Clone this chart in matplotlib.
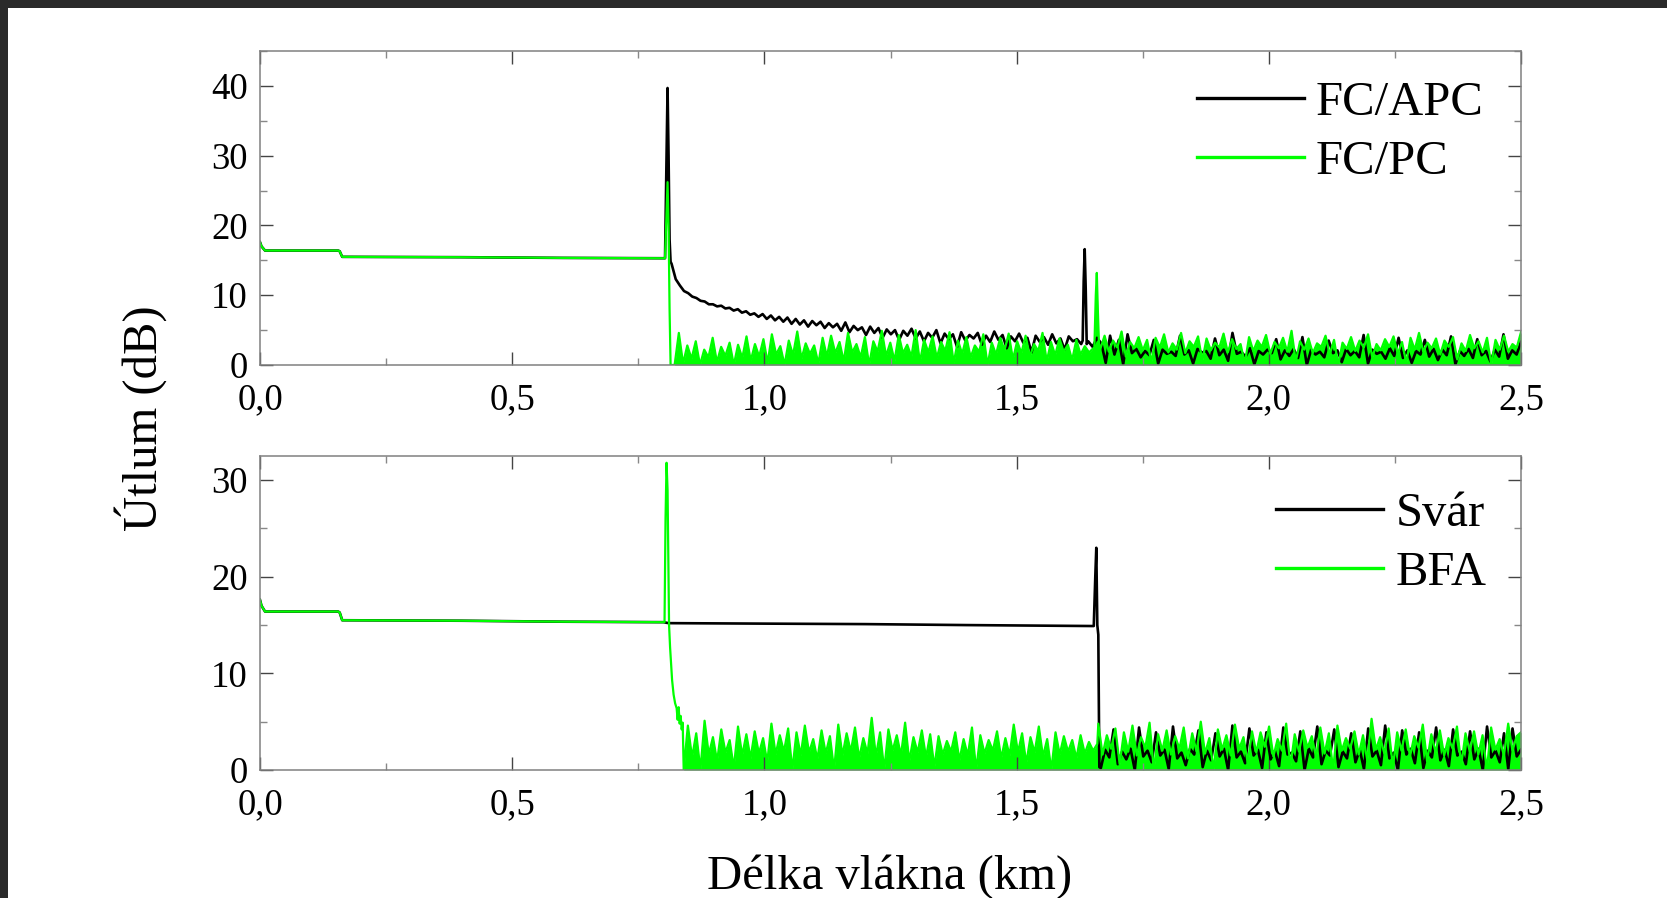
import numpy as np
import matplotlib
matplotlib.use("Agg")
import matplotlib.pyplot as plt
from matplotlib.ticker import MultipleLocator
from matplotlib.patches import Rectangle

plt.rcParams['font.family'] = 'serif'
plt.rcParams['font.serif'] = ['Liberation Serif', 'DejaVu Serif']

# společný začátek všech stop (km, dB)
prefix_km = [0.0, 0.003, 0.010, 0.155, 0.158, 0.163, 0.40, 0.60, 0.800]
prefix_db = [17.6, 17.0, 16.4, 16.4, 16.3, 15.5, 15.45, 15.35, 15.3]

# ---- horní graf: FC/APC (černá) ----
apc_peak_km = [0.803, 0.806, 0.808, 0.810, 0.812, 0.814]
apc_peak_db = [15.3, 30.0, 39.7, 30.0, 18.0, 14.8]
apc_noise_a_range = (0.816, 1.628)
apc_noise_a = [
    14.5, 12.3, 11.4, 10.6, 10.3, 9.8, 9.6, 9.2, 9.1, 8.7, 8.7, 8.4, 8.5, 8.1, 8.2, 7.8, 8.0, 7.5, 7.7, 7.2,
    7.4, 6.9, 7.3, 6.6, 7.1, 6.4, 6.9, 6.2, 6.8, 5.9, 6.6, 5.8, 6.4, 5.5, 6.3, 5.7, 6.2, 5.3, 6.0, 5.4,
    5.9, 4.9, 6.1, 4.7, 5.6, 5.0, 5.4, 4.3, 5.5, 4.6, 5.3, 3.9, 5.1, 4.4, 5.0, 3.6, 4.9, 4.2, 5.2, 3.8,
    4.8, 3.4, 4.6, 3.9, 5.0, 3.1, 4.5, 3.7, 4.4, 2.6, 4.7, 3.5, 4.3, 3.8, 4.6, 2.9, 4.2, 3.3, 4.8, 3.6,
    4.3, 2.4, 4.1, 3.4, 4.5, 3.2, 3.9, 1.8, 4.2, 3.3, 4.0, 2.9, 4.4, 3.1, 3.8, 2.2, 4.1, 3.4, 3.7, 3.0,
]
apc_spike_km = [1.631, 1.633, 1.635, 1.637, 1.639]
apc_spike_db = [3.5, 12.0, 16.6, 11.0, 3.0]
apc_noise_b_range = (1.642, 2.5)
apc_noise_b = [
    3.4, 2.6, 3.9, 3.1, 0.3, 4.2, 1.5, 3.6, 0.1, 4.4, 1.7, 2.3, 1.1, 2.0, 1.4, 3.6, 0.2, 2.2, 1.6, 1.9,
    1.3, 4.2, 1.5, 2.1, 0.2, 2.3, 1.8, 2.0, 0.9, 3.8, 1.4, 2.2, 0.6, 4.6, 1.6, 1.9, 1.2, 2.4, 0.1, 2.0,
    1.5, 2.2, 1.7, 3.7, 0.8, 2.1, 1.3, 2.3, 1.0, 4.0, 0.0, 2.2, 1.5, 1.9, 1.1, 3.5, 1.7, 2.1, 0.4, 2.3,
    1.4, 2.0, 1.1, 4.3, 0.2, 2.2, 1.6, 1.9, 0.9, 2.4, 1.3, 3.9, 1.0, 2.1, 0.3, 2.0, 1.5, 3.6, 1.2, 2.3,
    0.7, 2.2, 1.4, 4.1, 0.1, 2.0, 1.3, 2.3, 1.0, 3.7, 1.4, 2.0, 0.5, 2.2, 1.2, 4.4, 0.9, 2.1, 1.5, 3.3,
]

# ---- horní graf: FC/PC (zelená) ----
pc_peak_km = [0.803, 0.806, 0.808, 0.810, 0.812, 0.814, 0.818]
pc_peak_db = [15.3, 22.0, 26.2, 20.0, 8.0, 0.0, 0.0]
pc_noise_a_range = (0.822, 1.652)
pc_noise_a = [
    0.0, 4.6, 0.2, 2.8, 0.9, 3.4, 0.0, 2.2, 1.1, 3.9, 0.4, 2.6, 1.3, 3.2, 0.0, 2.9, 1.0, 4.1, 0.6, 3.0,
    1.2, 3.7, 0.3, 4.4, 1.5, 2.7, 0.0, 3.5, 1.4, 4.8, 0.9, 3.1, 1.6, 2.8, 0.2, 3.9, 1.2, 4.2, 1.7, 3.3,
    0.5, 4.6, 1.8, 3.0, 1.1, 4.0, 0.0, 3.4, 1.9, 4.9, 1.3, 3.2, 0.6, 4.3, 1.7, 2.9, 1.2, 5.0, 0.4, 3.6,
    1.8, 4.1, 1.0, 3.3, 2.0, 4.7, 0.3, 3.5, 1.6, 4.0, 1.1, 2.8, 1.9, 4.4, 0.0, 3.2, 1.5, 3.9, 2.1, 4.5,
    0.8, 3.4, 1.7, 4.2, 1.2, 3.0, 2.0, 4.6, 0.5, 3.3, 1.4, 3.8, 1.9, 2.9, 0.7, 3.6, 1.5, 2.7, 1.8, 2.4,
]
pc_spike_km = [1.654, 1.657, 1.659, 1.661, 1.664]
pc_spike_db = [2.0, 10.0, 13.2, 8.0, 1.5]
pc_noise_b_range = (1.666, 2.5)
pc_noise_b = [
    2.3, 4.2, 1.9, 3.5, 2.5, 4.8, 1.2, 3.3, 2.4, 4.0, 2.1, 3.6, 0.4, 3.9, 2.5, 4.4, 1.8, 3.1, 2.2, 4.6,
    1.7, 3.4, 2.6, 4.1, 0.6, 3.8, 2.1, 3.2, 2.5, 4.5, 1.8, 3.7, 2.3, 3.0, 0.2, 4.0, 2.0, 3.5, 2.6, 4.3,
    1.6, 3.3, 2.4, 3.9, 1.9, 4.9, 0.5, 3.4, 2.2, 3.8, 1.7, 3.1, 2.6, 4.2, 1.5, 3.6, 0.0, 3.2, 2.3, 4.0,
    2.0, 3.5, 2.5, 4.4, 1.1, 3.0, 2.1, 3.7, 2.6, 4.1, 1.6, 3.3, 0.3, 3.9, 2.2, 4.6, 1.9, 3.2, 2.4, 3.8,
    1.5, 3.5, 2.6, 4.0, 0.8, 3.1, 2.0, 4.3, 2.4, 3.4, 1.8, 3.9, 0.1, 3.6, 2.2, 4.2, 1.9, 3.0, 2.5, 4.7,
]

# ---- dolní graf: Svár (černá) ----
svar_km = [0.81, 1.0, 1.2, 1.4, 1.653, 1.656, 1.658, 1.660, 1.662, 1.664]
svar_db = [15.2, 15.15, 15.1, 15.0, 14.9, 20.0, 23.0, 15.0, 14.0, 0.3]
svar_noise_range = (1.667, 2.5)
svar_noise = [
    0.2, 2.1, 1.3, 4.2, 0.6, 1.9, 1.1, 2.2, 0.0, 4.4, 1.4, 2.0, 0.8, 3.9, 1.5, 2.1, 0.1, 4.5, 1.2, 1.8,
    0.5, 2.2, 1.6, 4.1, 0.3, 2.0, 1.0, 3.8, 1.4, 2.2, 0.0, 4.6, 1.3, 1.9, 0.7, 4.3, 1.5, 2.1, 0.2, 3.9,
    1.1, 2.0, 0.4, 4.4, 1.6, 1.8, 0.9, 4.0, 0.0, 2.2, 1.3, 4.5, 0.6, 2.0, 1.5, 4.2, 0.3, 1.9, 1.2, 3.8,
    0.8, 2.1, 0.1, 4.3, 1.4, 2.0, 0.5, 4.6, 1.2, 1.8, 0.0, 4.1, 1.6, 2.2, 0.7, 3.9, 0.2, 2.0, 1.3, 4.4,
    1.0, 2.1, 0.4, 4.2, 1.5, 1.9, 0.6, 4.0, 1.1, 2.2, 0.0, 4.5, 1.3, 2.0, 0.8, 3.8, 0.1, 4.3, 1.4, 2.1,
]

# ---- dolní graf: BFA (zelená) ----
bfa_peak_km = [0.802, 0.804, 0.806, 0.808, 0.810, 0.811, 0.813, 0.817, 0.820, 0.823,
               0.826, 0.828, 0.830, 0.832, 0.834, 0.836, 0.838]
bfa_peak_db = [15.3, 26.0, 31.8, 29.0, 20.0, 15.0, 12.7, 9.3, 7.8, 6.9,
               6.4, 5.2, 6.5, 4.8, 5.6, 4.2, 4.9]
bfa_noise_a_range = (0.840, 1.660)
bfa_noise_a = [
    0.0, 4.6, 1.3, 3.8, 0.0, 5.1, 1.6, 3.4, 0.9, 4.2, 1.8, 3.1, 0.2, 4.5, 1.5, 3.7, 1.2, 4.0, 1.7, 3.3,
    0.8, 4.8, 1.6, 3.6, 1.9, 4.3, 0.0, 3.9, 1.5, 4.6, 1.8, 3.2, 1.1, 4.1, 1.7, 3.5, 0.0, 4.7, 1.5, 3.8,
    1.9, 4.4, 1.2, 3.3, 1.7, 5.4, 1.4, 3.9, 0.0, 4.2, 2.0, 3.6, 1.5, 4.9, 0.9, 3.4, 1.8, 4.1, 1.3, 3.7,
    0.3, 3.5, 1.6, 3.0, 1.9, 3.9, 1.0, 3.2, 1.5, 4.4, 0.0, 3.6, 1.7, 3.1, 2.0, 4.0, 1.2, 3.3, 1.5, 4.7,
    1.8, 3.8, 0.7, 3.4, 1.8, 4.5, 1.4, 3.2, 0.0, 3.9, 1.6, 3.5, 1.9, 3.1, 1.2, 3.6, 1.7, 2.9, 2.0, 2.7,
]
bfa_noise_b_range = (1.662, 2.5)
bfa_noise_b = [
    4.8, 1.6, 3.6, 2.2, 4.3, 0.6, 3.9, 1.9, 4.6, 1.5, 3.4, 2.3, 4.9, 0.0, 3.7, 2.0, 4.1, 1.6, 3.5, 2.2,
    4.4, 1.2, 3.8, 1.9, 5.0, 1.7, 3.3, 0.0, 4.2, 2.1, 3.6, 1.5, 4.7, 2.2, 3.4, 0.7, 4.0, 1.8, 3.9, 2.4,
    4.5, 1.4, 3.2, 2.0, 4.8, 0.4, 3.7, 1.9, 4.1, 2.3, 3.5, 1.3, 4.4, 1.7, 3.8, 0.0, 4.6, 2.0, 3.3, 2.2,
    4.0, 1.6, 3.6, 1.0, 5.3, 2.1, 3.4, 1.7, 4.3, 0.3, 3.9, 2.0, 4.2, 1.4, 3.5, 2.3, 4.7, 0.9, 3.7, 1.8,
    4.1, 1.5, 3.3, 2.2, 4.5, 0.5, 3.8, 1.9, 4.0, 1.6, 3.6, 0.0, 4.4, 2.1, 3.2, 1.5, 4.8, 2.0, 3.5, 3.9,
]

xtick_labels = ['0,0', '0,5', '1,0', '1,5', '2,0', '2,5']

BLACK = '#000000'
GREEN = '#00ff00'


def noise(rng, vals):
    return np.linspace(rng[0], rng[1], len(vals)), np.array(vals)


def trace(*parts):
    xs = np.concatenate([np.asarray(p[0], float) for p in parts])
    ys = np.concatenate([np.asarray(p[1], float) for p in parts])
    return xs, ys


pc_a = noise(pc_noise_a_range, pc_noise_a)
pc_b = noise(pc_noise_b_range, pc_noise_b)
bfa_a = noise(bfa_noise_a_range, bfa_noise_a)
bfa_b = noise(bfa_noise_b_range, bfa_noise_b)

apc_x, apc_y = trace((prefix_km, prefix_db), (apc_peak_km, apc_peak_db),
                     noise(apc_noise_a_range, apc_noise_a),
                     (apc_spike_km, apc_spike_db),
                     noise(apc_noise_b_range, apc_noise_b))
pc_x, pc_y = trace((prefix_km, prefix_db), (pc_peak_km, pc_peak_db),
                   pc_a, (pc_spike_km, pc_spike_db), pc_b)
pc_fx, pc_fy = trace(pc_a, (pc_spike_km, pc_spike_db), pc_b)
svar_x, svar_y = trace((prefix_km, prefix_db), (svar_km, svar_db),
                       noise(svar_noise_range, svar_noise))
bfa_x, bfa_y = trace((prefix_km, prefix_db), (bfa_peak_km, bfa_peak_db),
                     bfa_a, bfa_b)
bfa_fx, bfa_fy = trace(bfa_a, bfa_b)

W, H = 1667, 898
fig = plt.figure(figsize=(W / 100, H / 100), dpi=100)
ax1 = fig.add_axes([260 / W, 1 - 365 / H, 1261 / W, 314 / H])
ax2 = fig.add_axes([260 / W, 1 - 770 / H, 1261 / W, 314 / H])


def style(ax, ymax, ymajor):
    ax.set_xlim(0, 2.5)
    ax.set_ylim(0, ymax)
    ax.xaxis.set_major_locator(MultipleLocator(0.5))
    ax.xaxis.set_minor_locator(MultipleLocator(0.25))
    ax.yaxis.set_major_locator(MultipleLocator(ymajor))
    ax.yaxis.set_minor_locator(MultipleLocator(ymajor / 2))
    ax.set_xticks(np.arange(0, 2.51, 0.5))
    ax.set_xticklabels(xtick_labels)
    ax.tick_params(which='both', direction='in', top=True, right=True,
                   labelsize=26.5, color='#444444')
    ax.tick_params(which='major', length=9.5, width=1.0)
    ax.tick_params(which='minor', length=5, width=1.0, color='#888888')
    ax.tick_params(axis='y', pad=9)
    ax.tick_params(axis='x', pad=12.5)
    for lab in ax.get_xticklabels() + ax.get_yticklabels():
        lab.set_fontfamily('Liberation Serif')
    for s in ax.spines.values():
        s.set_color('#808080')
        s.set_linewidth(1.1)


def legend(ax, anchor):
    leg = ax.legend(loc='center left', bbox_to_anchor=anchor, frameon=False,
                    fontsize=35, handlelength=2.2, handletextpad=0.25,
                    labelspacing=0.32, borderpad=0, borderaxespad=0)
    for ln in leg.get_lines():
        ln.set_linewidth(2.4)


# horní graf
ax1.plot(apc_x, apc_y, color=BLACK, lw=1.9, label='FC/APC')
ax1.fill_between(pc_fx, 0, pc_fy, color=GREEN, lw=0)
ax1.plot(pc_x, pc_y, color=GREEN, lw=1.6, label='FC/PC')
style(ax1, 45, 10)
legend(ax1, (0.743, 0.740))

# dolní graf
ax2.plot(svar_x, svar_y, color=BLACK, lw=1.9, label='Svár')
ax2.fill_between(bfa_fx, 0, bfa_fy, color=GREEN, lw=0)
ax2.plot(bfa_x, bfa_y, color=GREEN, lw=1.6, label='BFA')
style(ax2, 32.5, 10)
legend(ax2, (0.806, 0.721))

fig.text(141 / W, 1 - 418 / H, 'Útlum (dB)', rotation=90, ha='center',
         va='center', fontsize=35)
fig.text(890 / W, 1 - 889 / H, 'Délka vlákna (km)', ha='center',
         va='baseline', fontsize=35)

# tmavý okraj (výřez obrazovky)
fig.add_artist(Rectangle((0, 1 - 8 / H), 1, 8 / H, transform=fig.transFigure,
                         color='#2a2a2a', lw=0))
fig.add_artist(Rectangle((0, 0), 8 / W, 1, transform=fig.transFigure,
                         color='#2a2a2a', lw=0))

fig.savefig('out.png', dpi=100)
